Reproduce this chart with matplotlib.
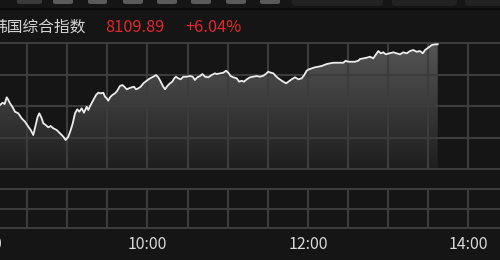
import matplotlib.pyplot as plt
import numpy as np
from matplotlib.patches import FancyBboxPatch, Rectangle

# minutes after 08:00 (Beijing time), index level
minutes = [9.7, 11.7, 13.2, 14.7, 15.7, 17.2, 19.2, 20.9, 23.4, 25.9, 28.4, 30.9, 32.7, 34.6,
           36.1, 37.9, 39.1, 40.9, 42.1, 43.9, 45.8, 47.6, 49.6, 52.1, 54.6, 57.1, 58.8, 60.8,
           62.6, 64.1, 65.8, 67.5, 69.0, 70.8, 72.5, 74.5, 75.7, 77.5, 79.5, 81.5, 83.2, 85.2,
           87.0, 88.2, 89.5, 90.7, 92.0, 93.7, 95.7, 97.4, 99.4, 101.2, 102.7, 104.5, 106.2,
           108.2, 109.9, 111.4, 113.1, 114.9, 116.9, 119.4, 121.9, 124.3, 126.4, 128.1, 129.9,
           131.8, 133.1, 134.8, 136.8, 138.5, 140.0, 141.3, 143.0, 144.8, 146.8, 149.3, 151.8,
           153.8, 155.5, 157.2, 159.3, 161.0, 163.0, 165.5, 168.0, 170.5, 171.7, 174.2, 176.7,
           178.7, 180.4, 182.2, 184.2, 186.7, 188.6, 190.4, 192.2, 194.2, 196.6, 199.1, 201.6,
           204.1, 206.6, 208.4, 210.3, 212.3, 214.1, 215.9, 217.8, 219.6, 221.5, 223.6, 225.3,
           227.8, 230.3, 232.8, 235.3, 237.2, 239.0, 240.8, 242.8, 245.2, 247.7, 250.2, 252.2,
           254.0, 256.5, 258.9, 261.5, 263.9, 266.4, 268.2, 270.1, 272.7, 275.1, 277.6, 278.9,
           281.4, 283.9, 286.4, 288.8, 291.4, 292.6, 294.4, 296.3, 298.3, 300.8, 303.8, 306.3,
           308.8, 311.3, 313.8, 316.3, 318.7, 321.3, 323.7, 325.8, 327.5, 329.9, 332.5, 335.0,
           337.0]
prices = [7927.8, 7934.7, 7930.8, 7950.9, 7944.9, 7932.9, 7920.9, 7907.7, 7902.9, 7887.9, 7877.7,
          7862.7, 7852.8, 7837.8, 7862.7, 7892.7, 7902.9, 7887.9, 7872.9, 7867.8, 7860.9, 7864.8,
          7857.9, 7852.8, 7842.9, 7832.7, 7822.8, 7832.7, 7852.8, 7872.9, 7902.9, 7914.9, 7907.7,
          7917.9, 7904.7, 7922.7, 7912.8, 7927.8, 7942.8, 7957.8, 7964.7, 7962.9, 7964.7, 7952.7,
          7947.9, 7940.7, 7950.9, 7957.8, 7962.9, 7970.7, 7984.8, 7987.8, 7982.7, 7974.9, 7977.9,
          7980.9, 7982.7, 7974.9, 7977.9, 7982.7, 7992.9, 8000.7, 8007.9, 8012.7, 8017.8, 8010.9,
          7997.7, 7982.7, 7974.9, 7984.8, 7992.9, 7997.7, 8007.9, 8012.7, 8007.9, 8004.9, 8012.7,
          8012.7, 8014.8, 8012.7, 8002.8, 8010.9, 8014.8, 8020.8, 8012.7, 8010.9, 8017.8, 8022.9,
          8020.8, 8022.9, 8024.7, 8030.7, 8024.7, 8014.8, 8010.9, 8007.9, 7997.7, 8000.7, 7997.7,
          8004.9, 8010.9, 8012.7, 8014.8, 8012.7, 8015.7, 8020.8, 8027.7, 8024.7, 8022.9, 8014.8,
          8007.9, 8002.8, 7997.7, 7992.9, 7997.7, 8004.9, 8010.9, 8004.9, 8007.9, 8017.8, 8030.7,
          8034.9, 8037.9, 8040.9, 8042.7, 8044.8, 8047.8, 8050.8, 8052.9, 8054.7, 8054.7, 8054.7,
          8054.7, 8060.7, 8057.7, 8057.7, 8057.7, 8060.7, 8065.8, 8067.9, 8069.7, 8072.7, 8067.9,
          8082.9, 8089.8, 8082.9, 8085.9, 8079.9, 8082.9, 8085.9, 8082.9, 8079.9, 8085.9, 8082.9,
          8089.8, 8092.8, 8087.7, 8089.8, 8082.9, 8092.8, 8099.7, 8107.8, 8109.9, 8109.9]

index_name = "韩国综合指数"
last_price = "8109.89"
change_pct = "+6.04%"
tick_minutes = [0, 120, 240, 360]
tick_labels = ["8:00", "10:00", "12:00", "14:00"]

BG = "#151515"
GRID = "#3c3c3c"
W, H = 500, 260
cjk = ["Noto Sans CJK SC", "DejaVu Sans"]

fig = plt.figure(figsize=(W / 100, H / 100), dpi=100, facecolor=BG)


def box(x0, y0, x1, y1):
    # pixel box (top-left origin) -> figure fraction rect
    return [x0 / W, 1 - y1 / H, (x1 - x0) / W, (y1 - y0) / H]


# top strip with tab buttons
for x0, x1, col in [(17, 42, "#3a3a3a"), (53, 73, "#5a5a5a"), (88, 107, "#5a5a5a"),
                    (123, 143, "#5a5a5a"), (157, 177, "#5a5a5a"), (191, 211, "#5a5a5a"),
                    (226, 246, "#5a5a5a"), (260, 280, "#5a5a5a")]:
    fig.patches.append(FancyBboxPatch((x0 / W, 1 - 4 / H), (x1 - x0) / W, 8 / H,
                                      boxstyle="round,pad=0,rounding_size=0.006",
                                      transform=fig.transFigure, fc=col, ec="none"))
for x0, x1 in [(292, 383), (392, 457), (465, 505)]:
    fig.patches.append(FancyBboxPatch((x0 / W, 1 - 6 / H), (x1 - x0) / W, 10 / H,
                                      boxstyle="round,pad=0,rounding_size=0.01",
                                      transform=fig.transFigure, fc="#222222", ec="none"))
fig.patches.append(Rectangle((0, 1 - 10 / H), 1, 2 / H, transform=fig.transFigure,
                             fc="#0c0c0c", ec="none"))

# header
fig.text(-9 / W, 1 - 27 / H, index_name, color="#d4d4d4", fontsize=11.3, family=cjk, va="center")
fig.text(105 / W, 1 - 27 / H, last_price, color="#e3262e", fontsize=11.8, family=cjk, va="center")
fig.text(185 / W, 1 - 27 / H, change_pct, color="#e3262e", fontsize=11.8, family=cjk, va="center")

# main price panel
ax = fig.add_axes(box(-13, 43, 508.6, 169))
ax.set_facecolor(BG)
ylo, yhi = 7735.8, 8113.9
ax.set_xlim(0, 390)
ax.set_ylim(ylo, yhi)
for s in ax.spines.values():
    s.set_visible(False)
ax.set_xticks([])
ax.set_yticks([])

poly = ax.fill_between(minutes, prices, ylo, color="none", lw=0)
grad = np.linspace(1, 0, 256).reshape(-1, 1)
im = ax.imshow(grad, extent=[0, 390, ylo, yhi], aspect="auto", origin="upper",
               cmap=plt.matplotlib.colors.LinearSegmentedColormap.from_list(
                   "g", ["#1e1e1e", "#555555"]), zorder=1)
im.set_clip_path(poly.get_paths()[0], transform=ax.transData)

for v in np.linspace(ylo, yhi, 5):
    ax.axhline(v, color=GRID, lw=1.5, clip_on=False, zorder=2)
for m in range(30, 390, 30):
    ax.axvline(m, color=GRID, lw=1.5, zorder=2)
ax.plot(minutes, prices, color="#ececec", lw=1.3, zorder=3)

# volume panel (empty)
axv = fig.add_axes(box(-13, 189, 508.6, 228))
axv.set_facecolor(BG)
axv.set_xlim(0, 390)
axv.set_ylim(0, 2)
for s in axv.spines.values():
    s.set_visible(False)
axv.set_yticks([])
for v in [0, 1, 2]:
    axv.axhline(v, color=GRID, lw=1.5, clip_on=False)
for m in range(30, 390, 30):
    axv.axvline(m, color=GRID, lw=1.5)
axv.set_xticks(tick_minutes)
axv.set_xticklabels(tick_labels, family=cjk, fontsize=11.5, color="#d8d8d8")
axv.tick_params(axis="x", length=0, pad=6)

fig.savefig("out.png", dpi=100, facecolor=BG)
